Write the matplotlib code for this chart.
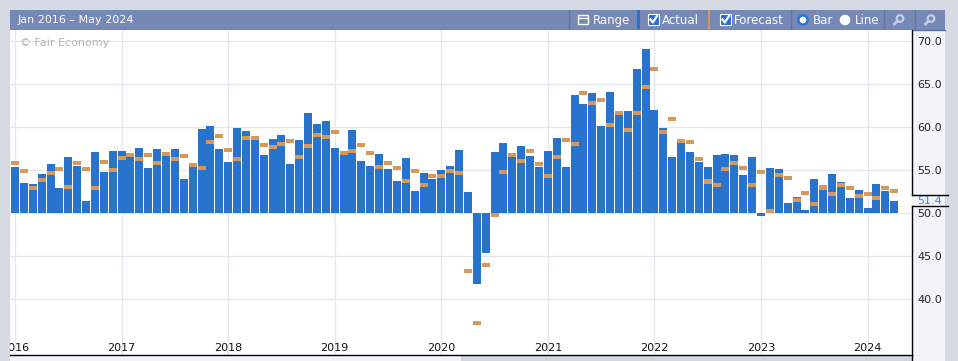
import matplotlib
matplotlib.use("Agg")
import matplotlib.pyplot as plt
from matplotlib.patches import Rectangle, Circle
from matplotlib.transforms import blended_transform_factory
import numpy as np

# --------- data (one bar per month, Jan 2016 .. Apr 2024) ---------
actual = [
    55.3,
    53.5, 53.4, 54.5, 55.7, 52.9, 56.5, 55.5, 51.4, 57.1, 54.8, 57.2, 57.2,
    56.5, 57.6, 55.2, 57.5, 56.9, 57.4, 53.9, 55.3, 59.8, 60.1, 57.4, 55.9,
    59.9, 59.5, 58.5, 56.8, 58.6, 59.1, 55.7, 58.5, 61.6, 60.3, 60.7, 57.6,
    56.7, 59.7, 56.1, 55.5, 56.9, 55.1, 53.7, 56.4, 52.6, 54.7, 53.9, 55.0,
    55.5, 57.3, 52.5, 41.8, 45.4, 57.1, 58.1, 56.5, 57.8, 56.6, 55.4, 57.2,
    58.7, 55.3, 63.7, 62.7, 64.0, 60.1, 64.1, 61.5, 61.9, 66.7, 69.1, 62.0,
    59.9, 56.5, 58.3, 57.1, 55.9, 55.3, 56.7, 56.9, 56.7, 54.4, 56.5, 49.6,
    55.2, 55.1, 51.2, 51.9, 50.3, 53.9, 52.7, 54.5, 53.6, 51.8, 52.7, 50.6,
    53.4, 52.6, 51.4,
]
forecast = [
    56.0,
    55.1, 53.1, 54.1, 54.9, 55.3, 53.3, 56.0, 55.3, 53.1, 56.2, 55.2, 56.6,
    57.0, 56.5, 57.0, 56.0, 57.1, 56.5, 56.9, 55.8, 55.5, 58.5, 59.2, 57.6,
    56.5, 59.0, 59.0, 58.1, 57.9, 58.3, 58.6, 56.7, 58.0, 59.3, 59.1, 59.7,
    57.2, 57.4, 58.1, 57.2, 55.6, 56.0, 55.5, 54.0, 55.1, 53.5, 54.5, 54.5,
    55.1, 54.9, 43.5, 37.4, 44.2, 50.0, 55.0, 57.0, 56.3, 57.4, 55.9, 54.5,
    56.7, 58.7, 58.3, 64.2, 63.0, 63.4, 60.5, 61.9, 59.9, 61.9, 64.9, 67.0,
    59.6, 61.2, 58.6, 58.5, 56.5, 53.9, 53.5, 55.4, 56.1, 55.5, 53.5, 55.0,
    50.5, 54.6, 54.3, 51.8, 52.6, 51.3, 53.2, 52.5, 53.5, 53.1, 52.2, 52.5,
    52.0, 53.1, 52.8,
]
years = [2016, 2017, 2018, 2019, 2020, 2021, 2022, 2023, 2024]
y_ticks = [40, 45, 50, 55, 60, 65, 70]
range_text = "Jan 2016 \u2013 May 2024"

BLUE = "#2874cc"
ORANGE = "#d4995b"
GRID = "#e6e7ee"
HEAD = "#7588b6"

W, H = 958, 361
fig = plt.figure(figsize=(W / 100, H / 100), dpi=100)
fig.patch.set_facecolor("#d5dae3")

# --------- chrome (pixel coords, origin top-left) ---------
bg = fig.add_axes([0, 0, 1, 1])
bg.set_xlim(0, W)
bg.set_ylim(H, 0)
bg.axis("off")

bg.add_patch(Rectangle((912, 30), 33, 331, fc="#f2f4f8", ec="none"))
bg.add_patch(Rectangle((10, 355), 451, 6, fc="#f2f4f8", ec="none"))
bg.add_patch(Rectangle((461, 355), 451, 6, fc="#d0d5de", ec="none"))
bg.plot([912, 912], [355, 361], color="black", lw=1)

bg.add_patch(Rectangle((10, 10), 935, 20, fc=HEAD, ec="none"))
bg.plot([10, 945], [29.5, 29.5], color="#5d70a0", lw=1)
bg.text(18, 20, range_text, color="white", fontsize=8, va="center")

for sx in [569, 791, 884, 915]:
    bg.plot([sx, sx], [10, 29], color="#62759f", lw=1)

# range button
bg.add_patch(Rectangle((578, 15), 10, 9, fc="none", ec="white", lw=1))
bg.plot([578, 588], [18, 18], color="white", lw=1)
bg.text(593, 20.5, "Range", color="white", fontsize=8.5, va="center")

# actual / forecast toggles
bg.add_patch(Rectangle((637, 10), 3, 19, fc=BLUE, ec="none"))
bg.add_patch(Rectangle((708, 10), 2.5, 19, fc=ORANGE, ec="none"))
for cx, lab in [(648, "Actual"), (720, "Forecast")]:
    bg.add_patch(Rectangle((cx, 14), 11, 11, fc="#2a6fd6", ec="white", lw=0.8))
    bg.plot([cx + 2.5, cx + 4.8, cx + 9], [19.5, 22.5, 16], color="white", lw=1.6)
    bg.text(cx + 14, 20.5, lab, color="white", fontsize=8.5, va="center")

# bar / line radios
bg.add_patch(Circle((803, 20), 4.6, fc="white", ec="#2a75e0", lw=1.8))
bg.text(813, 20.5, "Bar", color="white", fontsize=8.5, va="center")
bg.add_patch(Circle((845, 20), 5.3, fc="white", ec="none"))
bg.text(855, 20.5, "Line", color="white", fontsize=8.5, va="center")

# zoom icons
for zx in [899, 930]:
    bg.add_patch(Circle((zx + 1, 18.5), 3.3, fc="none", ec="#c3cde3", lw=1.6))
    bg.plot([zx - 1.5, zx - 4.5], [21, 24], color="#c3cde3", lw=2)

# --------- chart ---------
ax = fig.add_axes([10 / W, 6 / H, 902 / W, 325 / H])
ax.set_facecolor("white")
x = np.arange(len(actual))
act = np.array(actual)
fc = np.array(forecast)

ax.bar(x, act - 50, bottom=50, width=0.9, color=BLUE, zorder=2)
ax.bar(x, 0.47, bottom=fc - 0.47, width=0.9, color=ORANGE, zorder=3)

ymin, ymax = 33.49, 71.28
ax.set_xlim(-0.563, 101.0)
ax.set_ylim(ymin, ymax)
ax.set_xticks([12 * k for k in range(len(years))])
ax.set_yticks(y_ticks)
ax.grid(True, color=GRID, lw=0.9, zorder=0)
ax.set_axisbelow(True)
ax.tick_params(axis="x", length=0, labelbottom=False)
ax.yaxis.tick_right()
ax.tick_params(axis="y", length=0, pad=4, labelsize=8, labelcolor="#222222")
ax.set_yticklabels([f"{v:.1f}" for v in y_ticks])
for s in ["top", "left", "right"]:
    ax.spines[s].set_visible(False)
ax.spines["bottom"].set_color("black")
ax.spines["bottom"].set_linewidth(1)

xt = blended_transform_factory(ax.transData, ax.transAxes)
for k, yr in enumerate(years):
    ax.text(12 * k, 0.0215, str(yr), transform=xt, ha="center", va="center",
            fontsize=8, color="#111111", clip_on=True)

ax.text(10 / 902, 1 - 13 / 325, "\u00a9 Fair Economy", transform=ax.transAxes,
        color="#b5b5b5", fontsize=8, va="center")

# right axis line with the latest-value marker
yt = blended_transform_factory(ax.transAxes, ax.transData)
last = actual[-1]
lo, hi = last - 0.6, last + 0.68
ax.plot([1, 1], [ymin, lo], transform=yt, color="black", lw=1, clip_on=False)
ax.plot([1, 1], [hi, ymax], transform=yt, color="black", lw=1, clip_on=False)
for yy in [lo, hi]:
    ax.plot([1, 1 + 36 / 902], [yy, yy], transform=yt, color="black", lw=1,
            clip_on=False)
ax.text(1 + 5 / 902, last, f"{last:.1f}", transform=yt, color="#3d86e0",
        fontsize=8, va="center")

plt.savefig("out.png", dpi=100)
